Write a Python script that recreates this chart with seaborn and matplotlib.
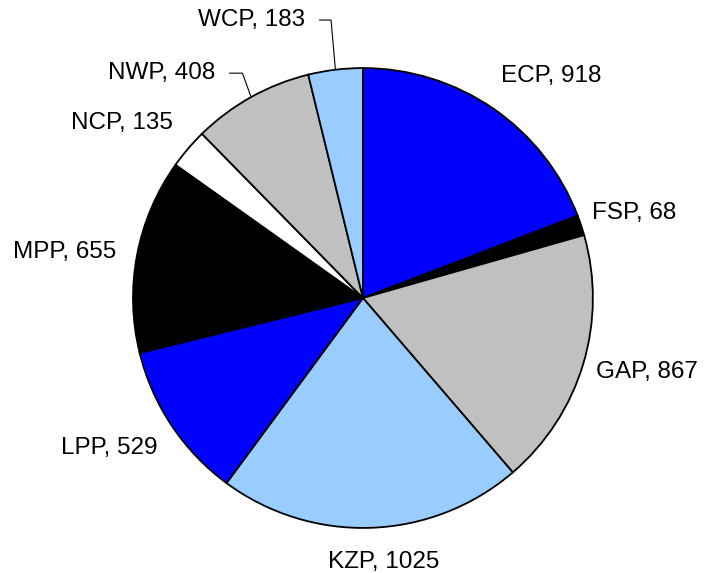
import numpy as np
import matplotlib
matplotlib.use("Agg")
import matplotlib.pyplot as plt
import seaborn as sns

sns.set_theme(style="white")
plt.rcParams["font.family"] = ["Liberation Sans", "DejaVu Sans"]
plt.rcParams["text.color"] = "black"

# pie data, clockwise from 12 o'clock
regions = ["ECP", "FSP", "GAP", "KZP", "LPP", "MPP", "NCP", "NWP", "WCP"]
counts = [918, 68, 867, 1025, 529, 655, 135, 408, 183]
colours = ["#0000FF", "#000000", "#C0C0C0", "#99CCFF", "#0000FF",
           "#000000", "#FFFFFF", "#C0C0C0", "#99CCFF"]

fig = plt.figure(figsize=(7.13, 5.73), dpi=100)
ax = fig.add_axes([0, 0, 1, 1])

wedges, _ = ax.pie(counts, colors=colours, startangle=90, counterclock=False,
                   radius=1.0, center=(0, 0),
                   wedgeprops={"edgecolor": "black", "linewidth": 1.3})

ax.set_xlim(-1.578, 1.522)
ax.set_ylim(-1.196, 1.296)
ax.set_aspect("equal")
ax.axis("off")

fs = 17.5
# small nudges so labels sit where the original puts them
nudge = {"ECP": (0.0, 0.09), "FSP": (-0.01, 0.035), "GAP": (0.0, -0.017),
         "KZP": (0.05, -0.09), "LPP": (-0.01, -0.064), "MPP": (-0.03, 0.0),
         "NCP": (-0.02, 0.073)}
# leader-line labels: (text offset from wedge edge, angle of leader at wedge)
leader = {"WCP": ((-0.132, 0.216), 95), "NWP": ((-0.157, 0.104), 110)}

for w, name, n in zip(wedges, regions, counts):
    ang = np.deg2rad((w.theta1 + w.theta2) / 2)
    x, y = np.cos(ang), np.sin(ang)
    label = f"{name}, {n}"
    if name in leader:
        (ox, oy), angB = leader[name]
        ax.annotate(label, xy=(x, y), xytext=(x + ox, y + oy),
                    ha="right", va="center", fontsize=fs,
                    arrowprops=dict(arrowstyle="-", color="black", lw=0.8,
                                    shrinkA=8, shrinkB=0,
                                    connectionstyle=f"angle,angleA=0,angleB={angB},rad=0"))
        continue
    d = 1.06
    dx, dy = nudge[name]
    if name == "KZP":
        ha = "center"
    else:
        ha = "left" if x > 0 else "right"
    ax.text(d * x + dx, d * y + dy, label, ha=ha, va="center", fontsize=fs)

fig.savefig("out.png", dpi=100, facecolor="white")
